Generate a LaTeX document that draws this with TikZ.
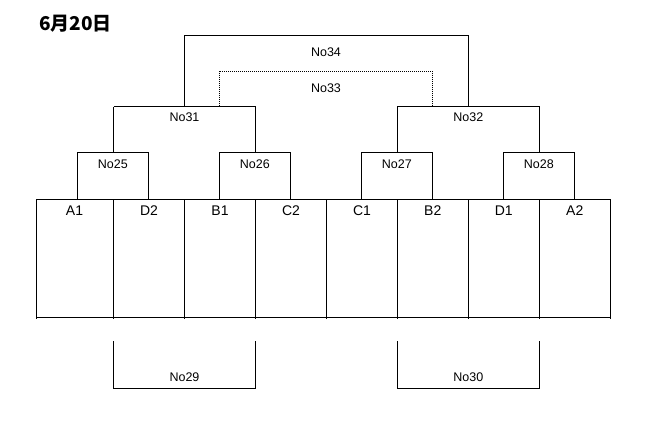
\documentclass[tikz,border=0pt]{standalone}
\usepackage{fontspec}
\setmainfont{Liberation Sans}
\newfontfamily\cjkfont{Noto Sans CJK JP}
\begin{document}
\begin{tikzpicture}[x=1pt,y=-1pt,
  ln/.style={line width=0.9pt,black},
  dotln/.style={line width=0.9pt,black,dash pattern=on 1pt off 1pt},
  lbl/.style={inner sep=0pt,font=\fontsize{12.5}{12.5}\selectfont},
  col/.style={inner sep=0pt,font=\fontsize{14}{14}\selectfont}]
\useasboundingbox (0,0) rectangle (662,428);
\fill[white] (0,0) rectangle (662,428);
% title
\node[anchor=west,inner sep=0pt,font=\cjkfont\bfseries\fontsize{19}{19}\selectfont] (title) at (39,24) {6月20日};
% column boundaries
\foreach \i/\x in {0/36.3,1/113.5,2/184.5,3/255.5,4/326.5,5/397.3,6/468.3,7/539.3,8/610.3}{
  \coordinate (t\i) at (\x,199.3);
  \coordinate (b\i) at (\x,317.3);
}
\draw[ln] (t0) -- (t8);
\draw[ln] (b0) -- (b8);
\foreach \i in {0,...,8}{ \draw[ln] (t\i) -- ([yshift=-1.2pt]b\i); }
% column labels
\foreach \n/\x/\t in {cA1/74.5/A1,cD2/149/D2,cB1/220/B1,cC2/291/C2,cC1/362/C1,cB2/432.8/B2,cD1/503.8/D1,cA2/574.8/A2}{
  \node[col] (\n) at (\x,211) {\t};
}
% first round boxes
\foreach \n/\l/\r in {25/77.3/148.3,26/219.3/290.3,27/361.3/432.3,28/503.3/574.3}{
  \coordinate (m\n l) at (\l,199.3);
  \coordinate (m\n r) at (\r,199.3);
  \coordinate (m\n tl) at (\l,152.3);
  \coordinate (m\n tr) at (\r,152.3);
  \draw[ln] (m\n l) -- (m\n tl) -- (m\n tr) -- (m\n r);
}
\node[lbl] (n25) at (112.8,164) {No25};
\node[lbl] (n26) at (254.8,164) {No26};
\node[lbl] (n27) at (396.8,164) {No27};
\node[lbl] (n28) at (538.8,164) {No28};
% semi-final boxes
\foreach \n/\l/\r in {31/113.5/255.5,32/397.3/539.3}{
  \coordinate (m\n l) at (\l,152.3);
  \coordinate (m\n r) at (\r,152.3);
  \coordinate (m\n tl) at (\l,106.3);
  \coordinate (m\n tr) at (\r,106.3);
  \draw[ln] (m\n l) -- ([yshift=-1.2pt]m\n tl) (m\n tl) -- (m\n tr) -- (m\n r);
}
\node[lbl] (n31) at (184.5,117.5) {No31};
\node[lbl] (n32) at (468.3,117.5) {No32};
% final
\coordinate (f34l) at (184.3,106.3);
\coordinate (f34r) at (468.3,106.3);
\coordinate (f34tl) at (184.3,35);
\coordinate (f34tr) at (468.3,35);
\draw[ln] (f34l) -- (f34tl) -- (f34tr) -- (f34r);
\node[lbl] (n34) at (326,52) {No34};
% third place (dotted)
\coordinate (f33l) at (219.3,106.3);
\coordinate (f33r) at (432.3,106.3);
\coordinate (f33tl) at (219.3,71);
\coordinate (f33tr) at (432.3,71);
\draw[dotln] (f33l) -- (f33tl) -- (f33tr) -- (f33r);
\node[lbl] (n33) at (326,88) {No33};
% lower boxes
\foreach \n/\l/\r in {29/113.5/255.5,30/397.3/539.3}{
  \coordinate (m\n tl) at (\l,341);
  \coordinate (m\n tr) at (\r,341);
  \coordinate (m\n bl) at (\l,388.3);
  \coordinate (m\n br) at (\r,388.3);
  \draw[ln] (m\n tl) -- (m\n bl) -- (m\n br) -- (m\n tr);
}
\node[lbl] (n29) at (184.5,377.5) {No29};
\node[lbl] (n30) at (468.3,377.5) {No30};
\end{tikzpicture}
\end{document}
